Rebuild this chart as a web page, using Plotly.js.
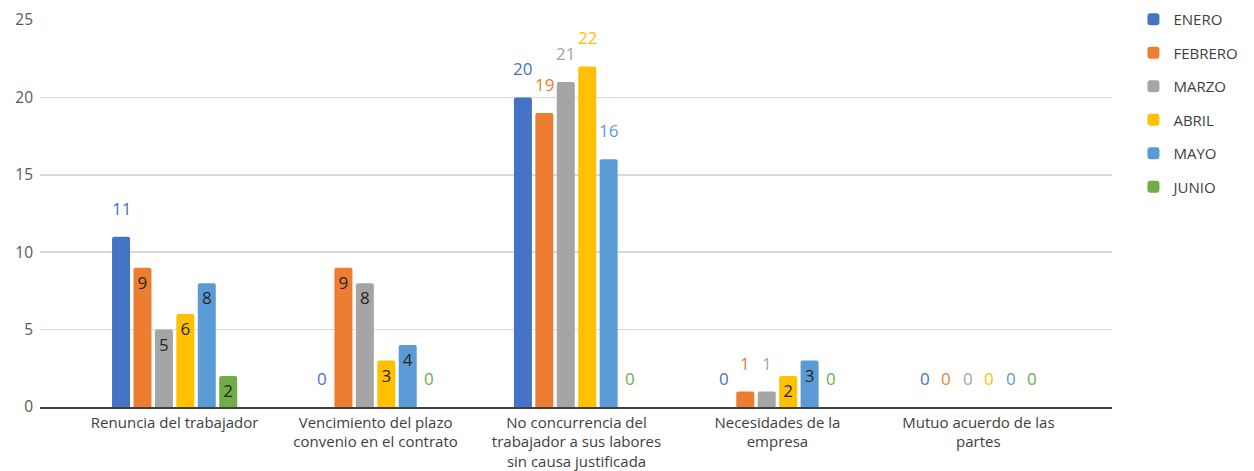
<!DOCTYPE html>
<html>
<head>
<meta charset="utf-8">
<script src="https://cdn.plot.ly/plotly-3.0.1.min.js"></script>
<style>html,body{margin:0;padding:0;background:#fff;}#chart{width:1254px;height:471px;}</style>
</head>
<body>
<div id="chart"></div>
<script>
const categories = [
  "Renuncia del trabajador",
  "Vencimiento del plazo<br>convenio en el contrato",
  "No concurrencia del<br>trabajador a sus labores<br>sin causa justificada",
  "Necesidades de la<br>empresa",
  "Mutuo acuerdo de las<br>partes"
];
const seriesNames = ["ENERO", "FEBRERO", "MARZO", "ABRIL", "MAYO", "JUNIO"];
const enero   = [11, 0, 20, 0, 0];
const febrero = [9, 9, 19, 1, 0];
const marzo   = [5, 8, 21, 1, 0];
const abril   = [6, 3, 22, 2, 0];
const mayo    = [8, 4, 16, 3, 0];
const junio   = [2, 0, 0, 0, 0];
const yTicks  = [0, 5, 10, 15, 20, 25];

// label placement (styling, not data)
const placement = [
  ["o","o","o","o","o"],
  ["i","i","o","o","o"],
  ["i","i","o","o","o"],
  ["i","i","o","i","o"],
  ["i","i","o","i","o"],
  ["i","o","o","o","o"]
];
const colors = ["#4472C4", "#ED7D31", "#A5A5A5", "#FFC000", "#5B9BD5", "#70AD47"];
const allSeries = [enero, febrero, marzo, abril, mayo, junio];
const FONT = "Open Sans, sans-serif";
const BARGAP = 0.36;
const nSeries = allSeries.length;
const slot = (1 - BARGAP) / nSeries;

const traces = allSeries.map((vals, s) => ({
  type: "bar",
  name: seriesNames[s],
  legendgroup: "g" + s,
  x: categories,
  y: vals,
  marker: { color: colors[s], cornerradius: 2, line: { width: 0 } },
  text: vals.map((v, i) => placement[s][i] === "i" ? String(v) : ""),
  textposition: vals.map((v, i) => placement[s][i] === "i" ? "inside" : "none"),
  insidetextanchor: "end",
  textangle: 0,
  constraintext: "none",
  cliponaxis: false,
  insidetextfont: { family: FONT, size: 17, color: "#262626" },
  hoverinfo: "none"
}));

const annotations = [];
allSeries.forEach((vals, s) => {
  vals.forEach((v, i) => {
    if (placement[s][i] !== "o") return;
    annotations.push({
      xref: "x", yref: "y",
      x: i + (s - (nSeries - 1) / 2) * slot,
      y: v,
      text: String(v),
      showarrow: false,
      xanchor: "center", yanchor: "bottom",
      yshift: 15,
      font: { family: FONT, size: 17, color: colors[s] }
    });
  });
});

const layout = {
  width: 1254, height: 471,
  margin: { l: 40, r: 142, t: 20, b: 64, autoexpand: false },
  paper_bgcolor: "#ffffff",
  plot_bgcolor: "#ffffff",
  barmode: "group",
  bargap: BARGAP,
  bargroupgap: 0.16,
  font: { family: FONT, color: "#404040" },
  showlegend: true,
  legend: {
    x: 1.02, xanchor: "left", y: 1.044, yanchor: "top",
    font: { family: FONT, size: 15, color: "#404040" },
    tracegroupgap: 11,
    traceorder: "grouped"
  },
  annotations: annotations,
  xaxis: {
    type: "category",
    range: [-0.67, 4.665],
    showgrid: false,
    showline: true, linecolor: "#404040", linewidth: 1.5,
    ticks: "",
    ticklabelstandoff: 1,
    tickfont: { family: FONT, size: 15, color: "#404040" },
    fixedrange: true
  },
  yaxis: {
    range: [0, 25],
    tickvals: yTicks,
    ticktext: yTicks.map(String),
    showgrid: true, gridcolor: "#d9d9d9", gridwidth: 1.5,
    zeroline: false,
    showline: false,
    ticks: "",
    ticklabelstandoff: 6,
    tickfont: { family: FONT, size: 15.5, color: "#595959" },
    fixedrange: true
  }
};

Plotly.newPlot("chart", traces, layout, { displayModeBar: false, staticPlot: true });
</script>
</body>
</html>
